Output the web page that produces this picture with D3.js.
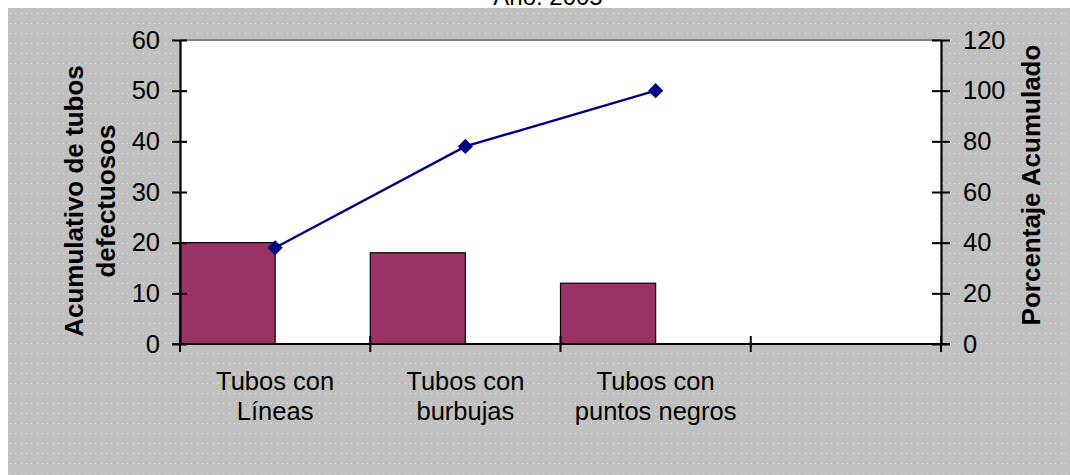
<!DOCTYPE html>
<html>
<head>
<meta charset="utf-8">
<script src="https://cdn.jsdelivr.net/npm/d3@7"></script>
<style>
  html, body { margin: 0; padding: 0; background: #fff; }
  svg { display: block; font-family: "Liberation Sans", Arial, sans-serif; }
</style>
</head>
<body>
<svg id="chart" width="1070" height="475"></svg>
<script>
// Categorías del diagrama de Pareto (la cuarta queda vacía)
const categories = ["Tubos con\nLíneas", "Tubos con\nburbujas", "Tubos con\npuntos negros", ""];
// Tubos defectuosos por tipo de defecto
const defectCounts = [20, 18, 12, null];
// Porcentaje acumulado
const cumulativePct = [38, 78, 100, null];
// Marcas de los ejes
const leftTicks = [0, 10, 20, 30, 40, 50, 60];
const rightTicks = [0, 20, 40, 60, 80, 100, 120];
const title = "Año: 2005";
const leftTitle = ["Acumulativo de tubos", "defectuosos"];
const rightTitle = "Porcentaje Acumulado";

const svg = d3.select("#chart");
const W = 1070, H = 475;
const plot = { left: 180, right: 941, top: 40, bottom: 344 };

// Fondo gris punteado
const defs = svg.append("defs");
const pat = defs.append("pattern")
  .attr("id", "dots").attr("patternUnits", "userSpaceOnUse")
  .attr("x", 10).attr("y", 13).attr("width", 16).attr("height", 10);
pat.append("rect").attr("width", 16).attr("height", 10).attr("fill", "#c0c0c0");
[0, 5, 11].forEach(px => pat.append("rect").attr("x", px).attr("y", 0)
  .attr("width", 1).attr("height", 1).attr("fill", "#e6e6e6"));
svg.append("rect").attr("x", 8).attr("y", 8).attr("width", W - 8).attr("height", H - 8)
  .attr("fill", "url(#dots)");

// Título (parcialmente fuera del lienzo)
svg.append("text").attr("x", 548).attr("y", 5).attr("text-anchor", "middle")
  .attr("font-size", 24).attr("fill", "#000").text(title);

// Escalas
const x = d3.scaleBand().domain(d3.range(categories.length))
  .range([plot.left, plot.right]).padding(0);
const sub = d3.scaleBand().domain(["defectos", "vacio"]).range([0, x.bandwidth()]);
const yL = d3.scaleLinear().domain([0, 60]).range([plot.bottom, plot.top]);
const yR = d3.scaleLinear().domain([0, 120]).range([plot.bottom, plot.top]);

// Área de trazado
svg.append("rect").attr("x", plot.left).attr("y", plot.top)
  .attr("width", plot.right - plot.left).attr("height", plot.bottom - plot.top)
  .attr("fill", "#fff");
svg.append("line").attr("x1", plot.left).attr("x2", plot.right)
  .attr("y1", plot.top).attr("y2", plot.top)
  .attr("stroke", "#808080").attr("stroke-width", 2);

// Barras
svg.append("g").selectAll("rect")
  .data(defectCounts.map((v, i) => ({ v, i })).filter(d => d.v != null))
  .join("rect")
  .attr("x", d => x(d.i) + sub("defectos"))
  .attr("y", d => yL(d.v))
  .attr("width", sub.bandwidth())
  .attr("height", d => yL(0) - yL(d.v))
  .attr("fill", "#993366").attr("stroke", "#000").attr("stroke-width", 1.2);

// Ejes
const tickFont = 25.5;
const gL = svg.append("g").attr("transform", `translate(${plot.left},0)`)
  .call(d3.axisLeft(yL).tickValues(leftTicks).tickSize(8).tickPadding(12).tickSizeOuter(0));
gL.selectAll(".tick line").attr("x1", 7);
const gR = svg.append("g").attr("transform", `translate(${plot.right},0)`)
  .call(d3.axisRight(yR).tickValues(rightTicks).tickSize(9).tickPadding(13).tickSizeOuter(0));
gR.selectAll(".tick line").attr("x1", -9);

const bounds = d3.range(categories.length).map(i => x(i)).concat([plot.right]);
const gB = svg.append("g").attr("transform", `translate(0,${plot.bottom})`);
gB.append("line").attr("x1", plot.left - 8).attr("x2", plot.right + 9)
  .attr("stroke", "#000").attr("stroke-width", 2.2);
gB.selectAll("line.tk").data(bounds).join("line").attr("class", "tk")
  .attr("x1", d => d).attr("x2", d => d).attr("y1", -8).attr("y2", 8)
  .attr("stroke", "#000").attr("stroke-width", 2);
const lbl = gB.selectAll("text").data(categories).join("text")
  .attr("x", (d, i) => x(i) + x.bandwidth() / 2)
  .attr("text-anchor", "middle").attr("font-size", tickFont).attr("fill", "#000");
lbl.selectAll("tspan").data(d => d ? d.split("\n") : []).join("tspan")
  .attr("x", function () { return this.parentNode.getAttribute("x"); })
  .attr("y", (d, i) => 46 + i * 30).text(d => d);

[gL, gR].forEach(g => {
  g.select(".domain").attr("stroke", "#000").attr("stroke-width", 2.2);
  g.selectAll(".tick line").attr("stroke", "#000").attr("stroke-width", 2);
  g.selectAll(".tick text").attr("font-size", tickFont).attr("fill", "#000")
    .attr("font-family", "Liberation Sans, Arial, sans-serif");
});

// Línea de porcentaje acumulado
const pts = cumulativePct.map((v, i) => ({ v, i })).filter(d => d.v != null);
const cx = d => x(d.i) + x.bandwidth() / 2;
svg.append("path").datum(pts)
  .attr("d", d3.line().x(cx).y(d => yR(d.v)))
  .attr("fill", "none").attr("stroke", "#000080").attr("stroke-width", 2.4);
svg.append("g").selectAll("path").data(pts).join("path")
  .attr("d", d3.symbol(d3.symbolSquare, 115))
  .attr("transform", d => `translate(${cx(d)},${yR(d.v)}) rotate(45)`)
  .attr("fill", "#000080");

// Títulos de los ejes
const tl = svg.append("text").attr("transform", "translate(0,201) rotate(-90)")
  .attr("text-anchor", "middle").attr("font-size", 26).attr("font-weight", "bold");
tl.selectAll("tspan").data(leftTitle).join("tspan")
  .attr("x", 0).attr("y", (d, i) => 83 + i * 32).text(d => d);
svg.append("text").attr("transform", "translate(1040,185) rotate(-90)")
  .attr("text-anchor", "middle").attr("font-size", 26).attr("font-weight", "bold")
  .text(rightTitle);
</script>
</body>
</html>
